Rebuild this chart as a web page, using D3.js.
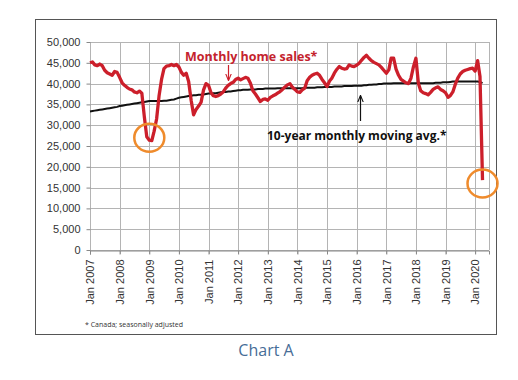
<!DOCTYPE html>
<meta charset="utf-8">
<style>
body { margin: 0; background: #fff; }
svg { display: block; font-family: "Open Sans", sans-serif; }
.grid line { stroke: #b4b4b4; stroke-width: 1; }
.axis text { fill: #333; font-size: 11px; }
.axis path, .axis line { stroke: #888; }
</style>
<svg width="518" height="380"></svg>
<script src="https://d3js.org/d3.v7.min.js"></script>
<script>
// monthly home sales, Jan 2007 .. Apr 2020
var sales2007 = [45000, 45200, 44500, 44300, 44700, 44300, 43200, 42600, 42300, 42000, 42900, 42700];
var sales2008 = [41500, 40200, 39600, 39100, 38700, 38500, 38000, 37800, 38200, 37700, 32000, 27200];
var sales2009 = [26400, 26300, 28500, 31500, 37000, 41000, 43600, 44200, 44300, 44600, 44300, 44600];
var sales2010 = [44000, 42700, 42000, 42500, 40500, 36000, 32500, 33800, 34600, 35500, 38500, 40000];
var sales2011 = [39600, 37800, 37100, 36900, 37100, 37500, 38000, 38900, 39600, 40000, 40300, 41000];
var sales2012 = [41300, 40900, 41200, 41500, 41300, 40100, 38300, 37500, 36600, 35700, 36200, 36300];
var sales2013 = [36000, 36700, 37000, 37300, 37700, 38100, 38600, 39200, 39700, 40000, 39100, 38600];
var sales2014 = [38000, 37900, 38500, 38900, 40700, 41500, 42000, 42300, 42500, 42000, 41000, 40200];
var sales2015 = [39300, 40600, 41300, 42500, 43400, 44100, 43700, 43500, 43600, 44500, 44200, 44100];
var sales2016 = [44400, 44900, 45600, 46300, 46800, 46100, 45500, 45100, 44800, 44500, 43900, 43200];
var sales2017 = [42500, 43300, 46100, 46100, 43500, 42000, 41000, 40600, 40200, 40000, 41300, 44000];
var sales2018 = [46100, 40000, 38300, 37800, 37600, 37300, 37900, 38600, 39000, 39200, 38600, 38300];
var sales2019 = [37800, 36700, 37100, 38000, 39800, 41300, 42300, 42900, 43200, 43400, 43600, 43700];
var sales2020 = [43000, 45500, 41700, 16800];

// 10-year monthly moving average
var avg2007 = [33300, 33400, 33500, 33600, 33700, 33800, 33900, 34000, 34100, 34200, 34300, 34400];
var avg2008 = [34600, 34700, 34800, 34900, 35000, 35100, 35200, 35300, 35400, 35500, 35600, 35700];
var avg2009 = [35800, 35800, 35800, 35800, 35800, 35800, 35900, 35900, 36000, 36100, 36200, 36400];
var avg2010 = [36600, 36700, 36800, 36900, 37000, 37100, 37200, 37200, 37300, 37300, 37400, 37500];
var avg2011 = [37600, 37600, 37700, 37700, 37800, 37900, 38000, 38000, 38100, 38100, 38200, 38300];
var avg2012 = [38400, 38400, 38500, 38500, 38500, 38600, 38600, 38600, 38700, 38700, 38700, 38800];
var avg2013 = [38800, 38800, 38800, 38800, 38900, 38900, 38900, 38900, 38900, 38900, 38900, 38900];
var avg2014 = [38900, 38900, 38900, 39000, 39000, 39000, 39000, 39000, 39100, 39100, 39100, 39200];
var avg2015 = [39200, 39200, 39200, 39300, 39300, 39300, 39300, 39400, 39400, 39400, 39400, 39500];
var avg2016 = [39500, 39500, 39500, 39600, 39600, 39700, 39700, 39800, 39800, 39900, 39900, 40000];
var avg2017 = [40000, 40000, 40000, 40100, 40100, 40100, 40100, 40100, 40100, 40100, 40100, 40100];
var avg2018 = [40100, 40100, 40100, 40100, 40100, 40100, 40100, 40100, 40200, 40200, 40200, 40300];
var avg2019 = [40300, 40300, 40400, 40500, 40500, 40500, 40500, 40500, 40500, 40500, 40500, 40500];
var avg2020 = [40500, 40500, 40400, 40100];

var years = [2007, 2008, 2009, 2010, 2011, 2012, 2013, 2014, 2015, 2016, 2017, 2018, 2019, 2020];
var yTicks = [0, 5000, 10000, 15000, 20000, 25000, 30000, 35000, 40000, 45000, 50000];
// orange rings: year, month, centre value
var circled = [[2009, 0, 27000], [2020, 3, 16000]];

var sales = [].concat(sales2007, sales2008, sales2009, sales2010, sales2011, sales2012, sales2013,
  sales2014, sales2015, sales2016, sales2017, sales2018, sales2019, sales2020);
var avg = [].concat(avg2007, avg2008, avg2009, avg2010, avg2011, avg2012, avg2013,
  avg2014, avg2015, avg2016, avg2017, avg2018, avg2019, avg2020);

var svg = d3.select("svg");

var x = d3.scaleTime()
  .domain([new Date(2007, 0, 1), new Date(2020, 5, 20)])
  .range([90, 489]);
var y = d3.scaleLinear().domain([0, 50000]).range([250, 42]);

function month(i) { return new Date(2007, i, 1); }

// outer frame
svg.append("rect")
  .attr("x", 35.5).attr("y", 19.5)
  .attr("width", 461).attr("height", 315)
  .attr("fill", "#fff").attr("stroke", "#555").attr("stroke-width", 1);

// gridlines
var grid = svg.append("g").attr("class", "grid");
grid.selectAll(".h").data(yTicks).enter().append("line")
  .attr("x1", 90).attr("x2", 489)
  .attr("y1", function(d) { return Math.round(y(d)) + 0.5; })
  .attr("y2", function(d) { return Math.round(y(d)) + 0.5; });
grid.selectAll(".v").data(years).enter().append("line")
  .attr("x1", function(d) { return Math.round(x(new Date(d, 0, 1))) + 0.5; })
  .attr("x2", function(d) { return Math.round(x(new Date(d, 0, 1))) + 0.5; })
  .attr("y1", 42).attr("y2", 254);
grid.append("line").attr("x1", 489.5).attr("x2", 489.5).attr("y1", 42).attr("y2", 250);

// y axis
var yAxis = svg.append("g").attr("class", "axis")
  .attr("transform", "translate(90.5,0)")
  .call(d3.axisLeft(y).tickValues(yTicks).tickSize(4).tickPadding(6)
    .tickFormat(d3.format(",")));
yAxis.select(".domain").remove();
yAxis.selectAll(".tick line").attr("stroke", "#999");
yAxis.selectAll("text").attr("font-size", "11px");

// x axis
var xAxis = svg.append("g").attr("class", "axis")
  .attr("transform", "translate(0,250.5)")
  .call(d3.axisBottom(x).tickValues(years.map(function(d) { return new Date(d, 0, 1); }))
    .tickSize(4).tickFormat(d3.timeFormat("Jan %Y")));
xAxis.select(".domain").attr("stroke", "#999");
xAxis.selectAll(".tick line").attr("stroke", "#999");
xAxis.selectAll("text")
  .attr("transform", "rotate(-90)")
  .attr("text-anchor", "end")
  .attr("x", -9).attr("y", 0).attr("dy", "0.35em")
  .attr("font-size", "10.5px");

// moving average
svg.append("path")
  .datum(avg)
  .attr("fill", "none").attr("stroke", "#111").attr("stroke-width", 2)
  .attr("d", d3.line().x(function(d, i) { return x(month(i)); }).y(function(d) { return y(d); }));

// monthly sales
svg.append("path")
  .datum(sales)
  .attr("fill", "none").attr("stroke", "#cc1f2b").attr("stroke-width", 3.3)
  .attr("stroke-linejoin", "round")
  .attr("d", d3.line().x(function(d, i) { return x(month(i)); }).y(function(d) { return y(d); }));

// circles
svg.selectAll(".ring").data(circled).enter().append("ellipse")
  .attr("cx", function(d) { return x(new Date(d[0], d[1], 1)); })
  .attr("cy", function(d) { return y(d[2]); })
  .attr("rx", 15).attr("ry", 14)
  .attr("fill", "none").attr("stroke", "#ef8b2c").attr("stroke-width", 2.5);

// annotations
svg.append("defs").selectAll("marker").data([["red", "#cc1f2b"], ["blk", "#111"]]).enter()
  .append("marker")
  .attr("id", function(d) { return "ah-" + d[0]; })
  .attr("viewBox", "0 0 10 10").attr("refX", 9).attr("refY", 5)
  .attr("markerWidth", 6).attr("markerHeight", 6).attr("orient", "auto")
  .append("path").attr("d", "M0,1L10,5L0,9").attr("fill", "none")
  .attr("stroke", function(d) { return d[1]; }).attr("stroke-width", 1.5);

svg.append("text")
  .attr("x", 185).attr("y", 61)
  .attr("fill", "#c4232d").attr("font-weight", "bold").attr("font-size", "12.5px")
  .text("Monthly home sales*");
svg.append("line")
  .attr("x1", 228.5).attr("x2", 228.5).attr("y1", 65).attr("y2", 80)
  .attr("stroke", "#cc1f2b").attr("stroke-width", 1.2)
  .attr("marker-end", "url(#ah-red)");

svg.append("text")
  .attr("x", 267).attr("y", 140)
  .attr("fill", "#111").attr("font-weight", "bold").attr("font-size", "12px")
  .text("10-year monthly moving avg.*");
svg.append("line")
  .attr("x1", 360.5).attr("x2", 360.5).attr("y1", 121).attr("y2", 96)
  .attr("stroke", "#111").attr("stroke-width", 1.2)
  .attr("marker-end", "url(#ah-blk)");

svg.append("text")
  .attr("x", 85).attr("y", 327)
  .attr("fill", "#333").attr("font-size", "7px")
  .text("* Canada; seasonally adjusted");

svg.append("text")
  .attr("x", 266).attr("y", 356)
  .attr("text-anchor", "middle")
  .attr("fill", "#476d97").attr("font-size", "16px")
  .text("Chart A");
</script>
